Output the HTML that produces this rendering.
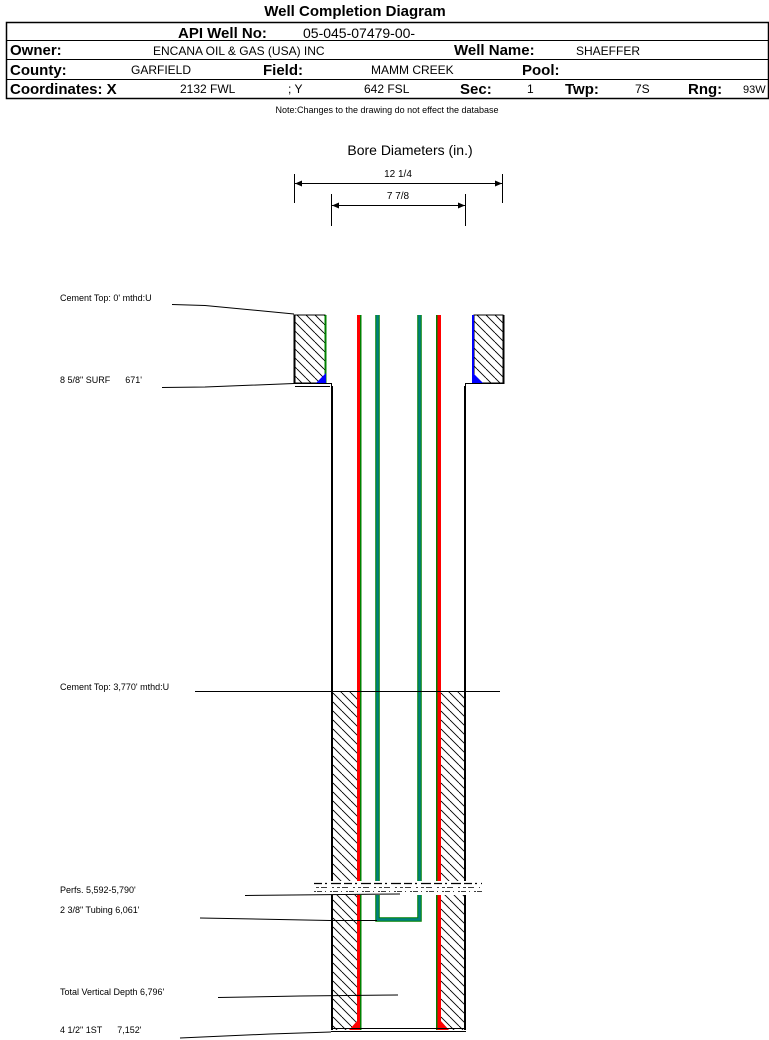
<!DOCTYPE html>
<html><head><meta charset="utf-8"><style>
html,body{margin:0;padding:0;background:#fff;width:769px;height:1040px;overflow:hidden}
svg{display:block}
text{font-family:"Liberation Sans",Arial,sans-serif;fill:#000}
</style></head><body>
<svg width="769" height="1040" viewBox="0 0 769 1040" xmlns="http://www.w3.org/2000/svg">
<defs>
<pattern id="h" width="9" height="9" patternUnits="userSpaceOnUse">
<line x1="0" y1="0" x2="9" y2="9" stroke="#000" stroke-width="0.9"/>
<line x1="-9" y1="0" x2="0" y2="9" stroke="#000" stroke-width="0.9"/>
<line x1="9" y1="0" x2="18" y2="9" stroke="#000" stroke-width="0.9"/>
</pattern>
</defs>
<!-- header -->
<text x="355" y="16" font-size="15" font-weight="bold" text-anchor="middle">Well Completion Diagram</text>
<rect x="6.5" y="22.5" width="762" height="76" fill="none" stroke="#000" stroke-width="1.5"/>
<line x1="6" y1="40.5" x2="769" y2="40.5" stroke="#000"/>
<line x1="6" y1="59.5" x2="769" y2="59.5" stroke="#000"/>
<line x1="6" y1="79.5" x2="769" y2="79.5" stroke="#000"/>
<text x="178" y="38" font-size="15" font-weight="bold">API Well No:</text>
<text x="303" y="38" font-size="14">05-045-07479-00-</text>
<text x="10" y="55" font-size="15" font-weight="bold">Owner:</text>
<text x="153" y="55" font-size="12">ENCANA OIL &amp; GAS (USA) INC</text>
<text x="454" y="55" font-size="15" font-weight="bold">Well Name:</text>
<text x="576" y="55" font-size="12">SHAEFFER</text>
<text x="10" y="75" font-size="15" font-weight="bold">County:</text>
<text x="131" y="74" font-size="12">GARFIELD</text>
<text x="263" y="75" font-size="15" font-weight="bold">Field:</text>
<text x="371" y="74" font-size="12">MAMM CREEK</text>
<text x="522" y="75" font-size="15" font-weight="bold">Pool:</text>
<text x="10" y="94" font-size="15" font-weight="bold">Coordinates: X</text>
<text x="180" y="93" font-size="12">2132 FWL</text>
<text x="288" y="93" font-size="12">; Y</text>
<text x="364" y="93" font-size="12">642 FSL</text>
<text x="460" y="94" font-size="15" font-weight="bold">Sec:</text>
<text x="527" y="93" font-size="12">1</text>
<text x="565" y="94" font-size="15" font-weight="bold">Twp:</text>
<text x="635" y="93" font-size="12">7S</text>
<text x="688" y="94" font-size="15" font-weight="bold">Rng:</text>
<text x="743" y="93" font-size="11">93W</text>
<text x="387" y="113" font-size="9" text-anchor="middle">Note:Changes to the drawing do not effect the database</text>

<!-- bore diameters -->
<text x="410" y="155" font-size="14" text-anchor="middle">Bore Diameters (in.)</text>
<g stroke="#000" stroke-width="1">
<line x1="294.5" y1="174" x2="294.5" y2="203"/><line x1="502.5" y1="174" x2="502.5" y2="203"/>
<line x1="295" y1="183.5" x2="502" y2="183.5"/>
<line x1="331.5" y1="194" x2="331.5" y2="226"/><line x1="465.5" y1="194" x2="465.5" y2="226"/>
<line x1="332" y1="205.5" x2="465" y2="205.5"/>
</g>
<path d="M295 183.5l7-3v6zM502 183.5l-7-3v6zM332 205.5l7-3v6zM465 205.5l-7-3v6z" fill="#000"/>
<text x="398" y="177" font-size="10" text-anchor="middle">12 1/4</text>
<text x="398" y="199" font-size="10" text-anchor="middle">7 7/8</text>

<!-- surface casing cement -->
<rect x="294" y="315" width="31" height="68" fill="url(#h)" stroke="#000" stroke-width="1"/>
<rect x="474" y="315" width="29" height="68" fill="url(#h)" stroke="#000" stroke-width="1"/>
<line x1="294.5" y1="315" x2="294.5" y2="384" stroke="#000" stroke-width="2"/>
<line x1="503.5" y1="315" x2="503.5" y2="384" stroke="#000" stroke-width="2"/>
<line x1="325.5" y1="315" x2="325.5" y2="383" stroke="#008000" stroke-width="2"/>
<line x1="473" y1="315" x2="473" y2="383" stroke="#0000ff" stroke-width="2"/>
<path d="M316 383 L326 373 L326 383Z" fill="#0000ff"/>
<path d="M473 373 L483 383 L473 383Z" fill="#0000ff"/>
<!-- shoe steps -->
<path d="M294 383.5 H331.5 V1030" fill="none" stroke="#000" stroke-width="1"/>
<path d="M295 386.5 H330" fill="none" stroke="#000" stroke-width="1"/>
<line x1="332" y1="386" x2="332" y2="1030" stroke="#000" stroke-width="2"/>
<path d="M503 383.5 H465.5 V1030" fill="none" stroke="#000" stroke-width="1"/>
<line x1="465" y1="386" x2="465" y2="1030" stroke="#000" stroke-width="2"/>
<!-- lower cement -->
<rect x="333" y="691" width="25" height="339" fill="url(#h)"/>
<rect x="441" y="691" width="23" height="339" fill="url(#h)"/>
<!-- production casing -->
<rect x="357" y="315" width="4" height="715" fill="#ff0000"/><rect x="360" y="315" width="1.5" height="715" fill="#008000"/>
<rect x="437" y="315" width="4" height="715" fill="#ff0000"/><rect x="436" y="315" width="1.5" height="715" fill="#008000"/>
<path d="M349 1030 L358 1020 L358 1030Z" fill="#ff0000"/>
<path d="M440 1020 L449 1030 L440 1030Z" fill="#ff0000"/>
<!-- tubing -->
<path d="M377.5 315 V919.5 H419.5 V315" fill="none" stroke="#008000" stroke-width="4.5"/>
<path d="M377.5 315 V919.5 H419.5 V315" fill="none" stroke="#008080" stroke-width="2.5"/>
<!-- bottom -->
<line x1="331" y1="1028.5" x2="466" y2="1028.5" stroke="#000"/>
<line x1="331" y1="1031.5" x2="466" y2="1031.5" stroke="#000"/>
<!-- perfs -->
<rect x="314" y="881" width="168" height="14" fill="#fff"/>
<g stroke="#000" stroke-width="1.2">
<line x1="314" y1="883.5" x2="482" y2="883.5" stroke-dasharray="8,3,2,4,10,3"/>
<line x1="316" y1="887.5" x2="480" y2="887.5" stroke-dasharray="3,2,6,5,2,3" stroke-width="0.8"/>
<line x1="314" y1="891.5" x2="482" y2="891.5" stroke-dasharray="2,1,5,3,1,4" stroke-width="0.8"/>
</g>

<!-- labels -->
<g font-size="9">
<text x="60" y="301">Cement Top: 0' mthd:U</text>
<text x="60" y="383">8 5/8" SURF&#160;&#160;&#160;&#160;&#160; 671'</text>
<text x="60" y="690">Cement Top: 3,770' mthd:U</text>
<text x="60" y="893">Perfs. 5,592-5,790'</text>
<text x="60" y="913">2 3/8" Tubing 6,061'</text>
<text x="60" y="995">Total Vertical Depth 6,796'</text>
<text x="60" y="1033">4 1/2" 1ST&#160;&#160;&#160;&#160;&#160; 7,152'</text>
</g>
<g stroke="#000" stroke-width="1" fill="none">
<polyline points="172,304.5 205,305.5 294,314"/>
<polyline points="162,387.5 205,387 294,383.5"/>
<line x1="195" y1="691.5" x2="500" y2="691.5"/>
<polyline points="245,895.5 400,894"/>
<polyline points="200,918 330,920.5 377,920.5"/>
<polyline points="218,997.5 300,996 398,995"/>
<polyline points="180,1038 270,1034 331,1032"/>
</g>
</svg>
</body></html>
